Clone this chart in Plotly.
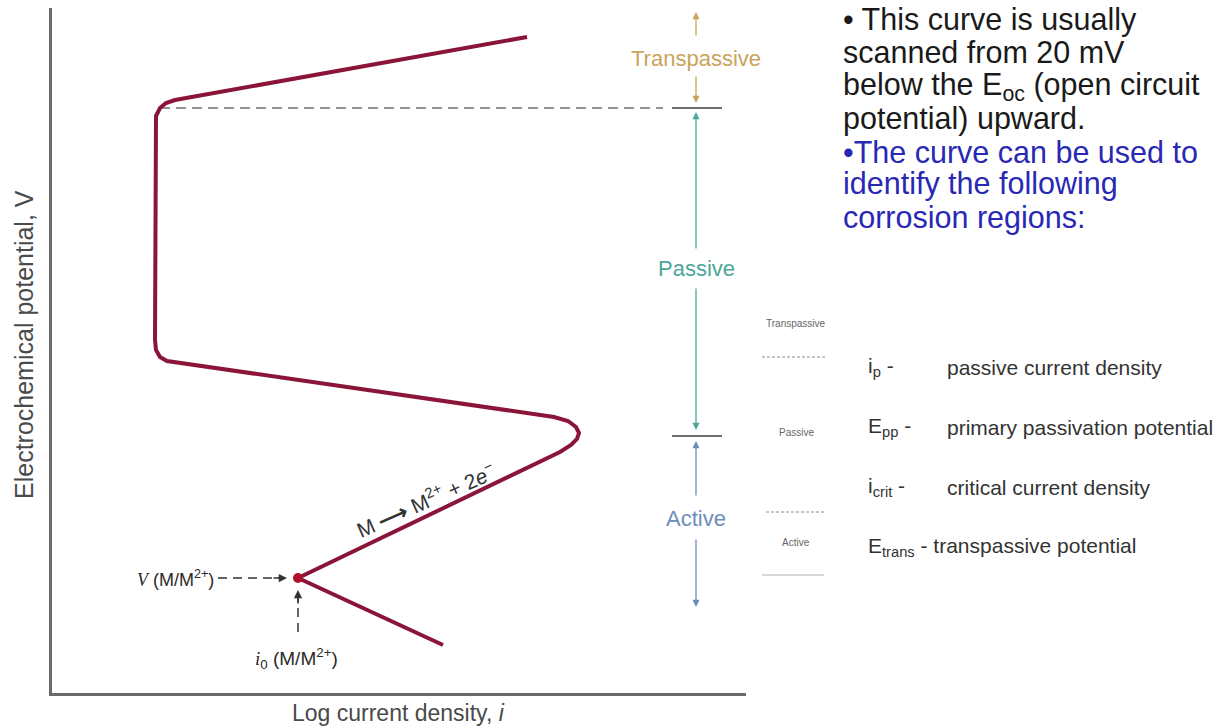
import plotly.graph_objects as go

# ---- polarization curve (log current density vs. potential, arbitrary units) ----
log_i = [3.91, 2.46, 5.08, 5.19, 5.25, 5.27, 5.24, 5.16, 5.02, 1.25, 1.15, 1.08, 1.04,
         1.03, 1.03, 1.04, 1.08, 1.14, 1.23, 4.75]
potential = [0.48, 1.15, 2.41, 2.48, 2.54, 2.60, 2.66, 2.72, 2.76, 3.30, 3.32, 3.36, 3.43,
             3.53, 5.68, 5.77, 5.85, 5.90, 5.93, 6.56]

# exchange current point i0 / V(M/M2+)
i0_point = [2.46]
v_eq = [1.15]

# region boundaries on the potential axis
e_trans = 5.85     # transpassive potential
e_pp = 2.57        # primary passivation potential
region_top = 6.81
region_bottom = 0.86
region_x = 6.44
tick_x = [6.20, 6.70]
passive_line_x = [1.08, 6.11]

region_names = ["Transpassive", "Passive", "Active"]
region_colors = ["#c9a45a", "#4ea698", "#6d8dbd"]

bullet_lines = [
    "• This curve is usually",
    "scanned from 20 mV",
    "below the E<sub>oc</sub> (open circuit",
    "potential) upward.",
    "•The curve can be used to",
    "identify the following",
    "corrosion regions:",
]
bullet_colors = ["#1a1a1a"] * 4 + ["#2828b4"] * 3

symbols = ["i<sub>p</sub> -", "E<sub>pp</sub> -", "i<sub>crit</sub> -"]
meanings = ["passive current density", "primary passivation potential",
            "critical current density"]
trans_def = "E<sub>trans</sub> - transpassive potential"

W, H = 1217, 727
L, R, T, B = 52, 471, 8, 34
PW, PH = W - L - R, H - T - B
X_RANGE = [0, 6.94]
Y_RANGE = [0, 6.85]


def pxx(xp):
    return (xp - L) / PW


def pxy(yp):
    return (H - B - yp) / PH


FONT = "Liberation Sans, Arial, sans-serif"
CURVE = "#8a1538"

fig = go.Figure()

# passive-region boundary (dashed)
fig.add_trace(go.Scatter(
    x=passive_line_x, y=[e_trans, e_trans], mode="lines",
    line=dict(color="#707070", width=1.7, dash="10px,6px"), hoverinfo="skip"))

# boundary ticks at E_trans and E_pp
for e in (e_trans, e_pp):
    fig.add_trace(go.Scatter(
        x=tick_x, y=[e, e], mode="lines",
        line=dict(color="#3c3c3c", width=1.6), hoverinfo="skip"))

# V(M/M2+) dashed leader and i0 dashed leader
fig.add_trace(go.Scatter(
    x=[1.66, 2.30], y=[v_eq[0], v_eq[0]], mode="lines",
    line=dict(color="#333333", width=1.5, dash="9px,6px"), hoverinfo="skip"))
fig.add_trace(go.Scatter(
    x=[i0_point[0], i0_point[0]], y=[0.61, 1.00], mode="lines",
    line=dict(color="#333333", width=1.5, dash="9px,6px"), hoverinfo="skip"))

# the polarization curve
fig.add_trace(go.Scatter(
    x=log_i, y=potential, mode="lines",
    line=dict(color=CURVE, width=4), hoverinfo="skip"))

# i0 point
fig.add_trace(go.Scatter(
    x=i0_point, y=v_eq, mode="markers",
    marker=dict(color="#b0102a", size=10), hoverinfo="skip"))

ann = []


def arrow(x, y, ax, ay, color, width=1.3):
    ann.append(dict(x=x, y=y, ax=ax, ay=ay, xref="x", yref="y", axref="x", ayref="y",
                    text="", showarrow=True, arrowhead=2, arrowsize=1.1,
                    arrowwidth=width, arrowcolor=color))


# region arrows: (upper tip, upper shaft end, label y, lower shaft start, lower tip)
spans = [
    (region_top, 6.56, 6.35, 6.18, e_trans + 0.05),
    (e_trans - 0.04, 4.43, 4.25, 4.06, e_pp + 0.06),
    (e_pp - 0.05, 1.96, 1.75, 1.55, region_bottom),
]
for name, col, (top, s1, ly, s2, bot) in zip(region_names, region_colors, spans):
    arrow(region_x, top, region_x, s1, col)
    arrow(region_x, bot, region_x, s2, col)
    ann.append(dict(x=region_x, y=ly, xref="x", yref="y", text=name, showarrow=False,
                    font=dict(family=FONT, size=22, color=col),
                    xanchor="center", yanchor="middle"))

# arrowheads of the dashed leaders
arrow(2.35, v_eq[0], 2.20, v_eq[0], "#333333", 1.5)
arrow(i0_point[0], 1.03, i0_point[0], 0.88, "#333333", 1.5)

# curve labels
ann.append(dict(x=1.64, y=1.15, xref="x", yref="y",
                text="<span style='font-family:Liberation Serif'><i>V</i></span> (M/M<sup>2+</sup>)",
                showarrow=False, xanchor="right", yanchor="middle",
                font=dict(family=FONT, size=18, color="#2a2a2a")))
ann.append(dict(x=2.44, y=0.35, xref="x", yref="y",
                text="<span style='font-family:Liberation Serif'><i>i</i></span><sub>0</sub> (M/M<sup>2+</sup>)",
                showarrow=False, xanchor="center", yanchor="middle",
                font=dict(family=FONT, size=19, color="#2a2a2a")))
ann.append(dict(x=3.73, y=1.93, xref="x", yref="y",
                text="M <b>⟶</b> M<sup>2+</sup> + 2<i>e</i><sup>−</sup>",
                showarrow=False, textangle=-24, xanchor="center", yanchor="middle",
                font=dict(family=FONT, size=21, color="#333333")))

# axis titles
ann.append(dict(x=pxx(398), y=pxy(713), xref="paper", yref="paper",
                text="Log current density, <i>i</i>", showarrow=False,
                xanchor="center", yanchor="middle",
                font=dict(family=FONT, size=23, color="#4a4a4a")))
ann.append(dict(x=pxx(24), y=pxy(345), xref="paper", yref="paper",
                text="Electrochemical potential, V", showarrow=False, textangle=-90,
                xanchor="center", yanchor="middle",
                font=dict(family=FONT, size=25, color="#4a4a4a")))

# explanatory text block
line_y = [20, 52, 86, 118, 152, 184, 218]
for txt, col, yy in zip(bullet_lines, bullet_colors, line_y):
    ann.append(dict(x=pxx(841), y=pxy(yy), xref="paper", yref="paper", text=txt,
                    showarrow=False, xanchor="left", yanchor="middle",
                    font=dict(family=FONT, size=30.5, color=col)))

# small key of the regions
key_labels = [("Transpassive", 323), ("Passive", 432), ("Active", 542)]
for txt, yy in key_labels:
    ann.append(dict(x=pxx(796), y=pxy(yy), xref="paper", yref="paper", text=txt,
                    showarrow=False, xanchor="center", yanchor="middle",
                    font=dict(family=FONT, size=10, color="#666666")))

def_y = [367, 427, 487]
for s, m, yy in zip(symbols, meanings, def_y):
    ann.append(dict(x=pxx(866), y=pxy(yy), xref="paper", yref="paper", text=s,
                    showarrow=False, xanchor="left", yanchor="middle",
                    font=dict(family=FONT, size=21, color="#333333")))
    ann.append(dict(x=pxx(945), y=pxy(yy), xref="paper", yref="paper", text=m,
                    showarrow=False, xanchor="left", yanchor="middle",
                    font=dict(family=FONT, size=21, color="#333333")))
ann.append(dict(x=pxx(866), y=pxy(547), xref="paper", yref="paper", text=trans_def,
                showarrow=False, xanchor="left", yanchor="middle",
                font=dict(family=FONT, size=21, color="#333333")))

shapes = [
    dict(type="line", xref="paper", yref="paper", x0=pxx(762), x1=pxx(826),
         y0=pxy(357), y1=pxy(357), line=dict(color="#8a8a8a", width=1, dash="3px,2px")),
    dict(type="line", xref="paper", yref="paper", x0=pxx(766), x1=pxx(826),
         y0=pxy(512), y1=pxy(512), line=dict(color="#8a8a8a", width=1, dash="3px,2px")),
    dict(type="line", xref="paper", yref="paper", x0=pxx(762), x1=pxx(824),
         y0=pxy(575), y1=pxy(575), line=dict(color="#b0b0b0", width=1)),
]

fig.update_layout(
    width=W, height=H, autosize=False,
    margin=dict(l=L, r=R, t=T, b=B),
    paper_bgcolor="white", plot_bgcolor="white",
    showlegend=False,
    annotations=ann, shapes=shapes,
    xaxis=dict(range=X_RANGE, showline=True, linecolor="#6a6a6a", linewidth=2.5,
               showgrid=False, zeroline=False, showticklabels=False, ticks=""),
    yaxis=dict(range=Y_RANGE, showline=True, linecolor="#6a6a6a", linewidth=2.5,
               showgrid=False, zeroline=False, showticklabels=False, ticks=""),
)

fig.write_html("out.html")
